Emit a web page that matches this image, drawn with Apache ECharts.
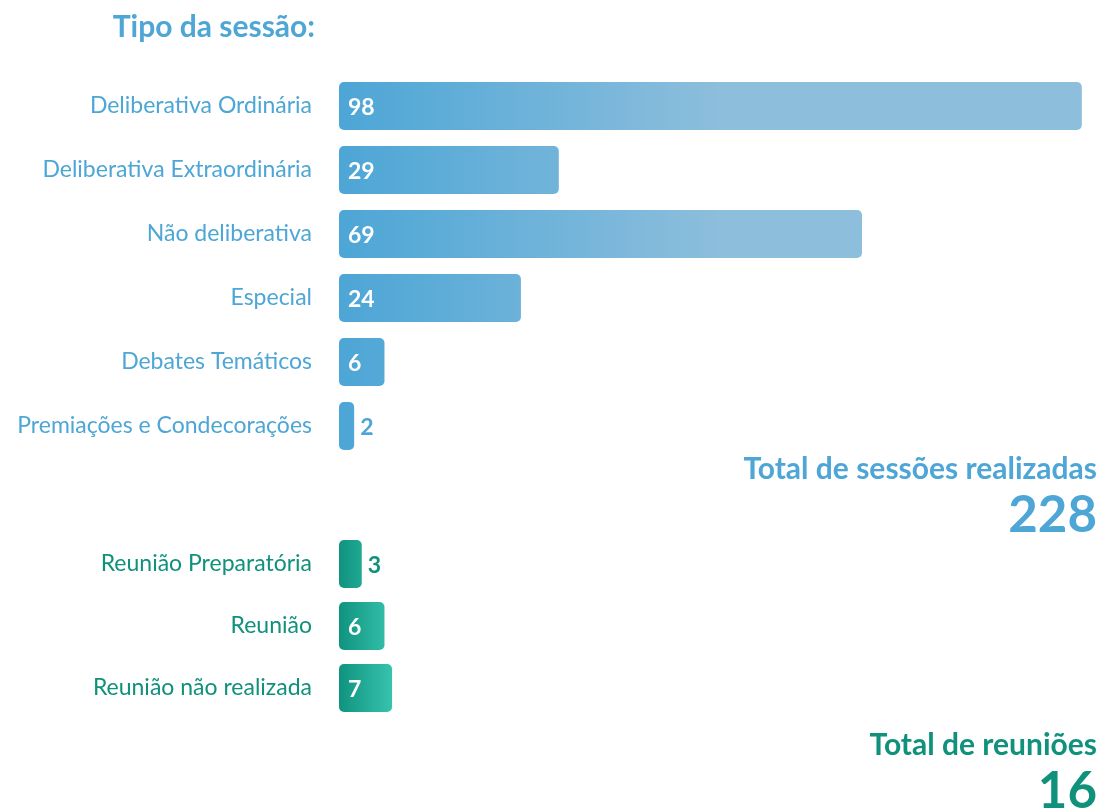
<!DOCTYPE html>
<html>
<head>
<meta charset="utf-8">
<script src="https://cdn.jsdelivr.net/npm/echarts@6/dist/echarts.min.js"></script>
<style>
  html, body { margin: 0; padding: 0; background: #fff; }
  #chart { width: 1102px; height: 811px; }
</style>
</head>
<body>
<div id="chart"></div>
<script>
// dados das sessões
var sessaoTipos = ['Deliberativa Ordinária', 'Deliberativa Extraordinária', 'Não deliberativa', 'Especial', 'Debates Temáticos', 'Premiações e Condecorações'];
var sessaoValores = [98, 29, 69, 24, 6, 2];
var totalSessoes = 228;

// dados das reuniões
var reuniaoTipos = ['Reunião Preparatória', 'Reunião', 'Reunião não realizada'];
var reuniaoValores = [3, 6, 7];
var totalReunioes = 16;

var azul = '#4da6d6';
var verde = '#0f917c';
var fonte = 'Lato, "Open Sans", sans-serif';

var myChart = echarts.init(document.getElementById('chart'));

function dadosBarra(valores, corTexto) {
    return valores.map(function (v) {
        var dentro = v >= 5;
        return {
            value: v,
            label: {
                position: dentro ? 'insideLeft' : 'right',
                distance: dentro ? 9 : 6,
                color: dentro ? '#fff' : corTexto
            }
        };
    });
}

var option = {
    animation: false,
    textStyle: { fontFamily: fonte },
    graphic: [
        { type: 'text', right: 787, top: 12, style: { text: 'Tipo da sessão:', font: 'bold 30px ' + fonte, fill: azul } },
        { type: 'text', right: 5, top: 454, style: { text: 'Total de sessões realizadas', font: 'bold 30px ' + fonte, fill: azul } },
        { type: 'text', right: 5, top: 490, style: { text: String(totalSessoes), font: 'bold 51px ' + fonte, fill: azul } },
        { type: 'text', right: 5, top: 730, style: { text: 'Total de reuniões', font: 'bold 30px ' + fonte, fill: verde } },
        { type: 'text', right: 5, top: 766, style: { text: String(totalReunioes), font: 'bold 51px ' + fonte, fill: verde } }
    ],
    grid: [
        { left: 339, right: 5, top: 74, height: 384 },
        { left: 339, right: 5, top: 533, height: 186 }
    ],
    xAxis: [
        { gridIndex: 0, type: 'value', min: 0, max: 100, show: false },
        { gridIndex: 1, type: 'value', min: 0, max: 100, show: false }
    ],
    yAxis: [
        {
            gridIndex: 0, type: 'category', inverse: true, data: sessaoTipos,
            axisLine: { show: false }, axisTick: { show: false },
            axisLabel: { color: azul, fontSize: 23, margin: 27, fontFamily: fonte }
        },
        {
            gridIndex: 1, type: 'category', inverse: true, data: reuniaoTipos,
            axisLine: { show: false }, axisTick: { show: false },
            axisLabel: { color: verde, fontSize: 23, margin: 27, fontFamily: fonte }
        }
    ],
    series: [
        {
            type: 'bar', xAxisIndex: 0, yAxisIndex: 0, barWidth: 48,
            data: dadosBarra(sessaoValores, azul),
            itemStyle: {
                borderRadius: 5,
                color: new echarts.graphic.LinearGradient(339, 0, 720, 0, [
                    { offset: 0, color: '#4da6d6' },
                    { offset: 1, color: '#8dbedc' }
                ], true)
            },
            label: { show: true, fontSize: 23, fontWeight: 'bold', fontFamily: fonte, offset: [0, 2] }
        },
        {
            type: 'bar', xAxisIndex: 1, yAxisIndex: 1, barWidth: 48,
            data: dadosBarra(reuniaoValores, verde),
            itemStyle: {
                borderRadius: 5,
                color: new echarts.graphic.LinearGradient(339, 0, 394, 0, [
                    { offset: 0, color: '#0f937f' },
                    { offset: 1, color: '#38c5af' }
                ], true)
            },
            label: { show: true, fontSize: 23, fontWeight: 'bold', fontFamily: fonte, offset: [0, 2] }
        }
    ]
};

myChart.setOption(option);
</script>
</body>
</html>
